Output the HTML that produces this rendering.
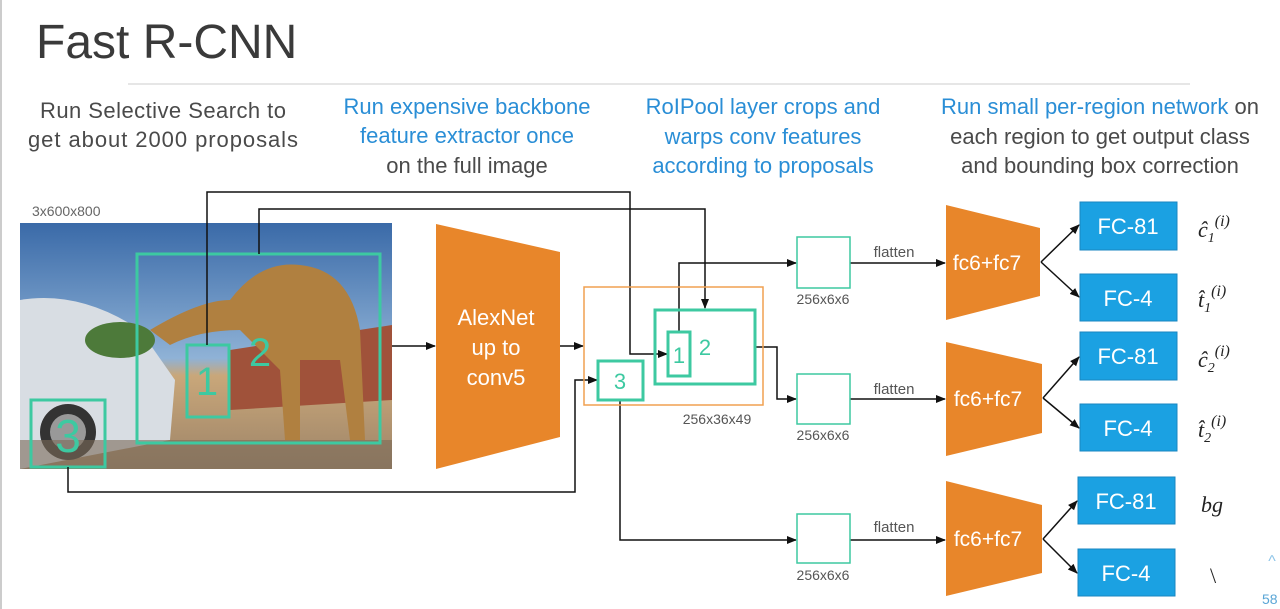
<!DOCTYPE html>
<html><head><meta charset="utf-8"><style>
html,body{margin:0;padding:0;background:#fff;}
svg{display:block;font-family:"Liberation Sans",sans-serif;}
</style></head><body>
<svg width="1280" height="609" viewBox="0 0 1280 609" xmlns="http://www.w3.org/2000/svg">
<defs>
<marker id="ar" markerWidth="10" markerHeight="10" refX="9" refY="5" orient="auto" markerUnits="userSpaceOnUse">
<path d="M0,1 L10,5 L0,9 Z" fill="#111"/></marker>
<linearGradient id="sky" x1="0" y1="0" x2="0" y2="1">
<stop offset="0" stop-color="#3a6aa8"/><stop offset="0.55" stop-color="#8fb2d6"/><stop offset="0.62" stop-color="#c9a77a"/><stop offset="1" stop-color="#9d8468"/></linearGradient>
</defs>
<line x1="1" y1="0" x2="1" y2="609" stroke="#999" stroke-width="1"/>
<text x="36" y="58" font-size="48" fill="#3a3a3a">Fast R-CNN</text>
<line x1="128" y1="84" x2="1190" y2="84" stroke="#ccc" stroke-width="1"/>

<g font-size="22" text-anchor="middle" fill="#4a4a4a">
<text x="163" y="118" textLength="246">Run Selective Search to</text>
<text x="163" y="147" textLength="270">get about 2000 proposals</text>
<text x="467" y="114" fill="#2a8ed6">Run expensive backbone</text>
<text x="467" y="143" fill="#2a8ed6">feature extractor once</text>
<text x="467" y="173">on the full image</text>
<text x="763" y="114" fill="#2a8ed6">RoIPool layer crops and</text>
<text x="763" y="144" fill="#2a8ed6">warps conv features</text>
<text x="763" y="173" fill="#2a8ed6">according to proposals</text>
<text x="1100" y="114"><tspan fill="#2a8ed6">Run small per-region network</tspan> on</text>
<text x="1100" y="144">each region to get output class</text>
<text x="1100" y="173">and bounding box correction</text>
</g>

<text x="32" y="216" font-size="14" fill="#666">3x600x800</text>
<rect x="20" y="223" width="372" height="246" fill="url(#sky)"/>
<polygon points="230,350 392,325 392,400 230,410" fill="#a0523a"/>
<path d="M20,300 Q80,290 140,330 L175,380 L170,440 L20,469 Z" fill="#d8dde3"/>
<path d="M150,330 Q200,300 230,300 Q260,260 300,265 Q350,270 360,330 L365,440 L350,440 L340,360 L300,360 L300,440 L285,440 L280,370 L240,330 Q200,330 170,345 Z" fill="#b08040"/>
<ellipse cx="120" cy="340" rx="35" ry="18" fill="#4d7a3a"/>
<circle cx="68" cy="432" r="28" fill="#333"/><circle cx="68" cy="432" r="18" fill="#999"/>
<rect x="20" y="440" width="372" height="29" fill="#7c6a58" opacity="0.6"/>

<g fill="none" stroke="#3dc9a1" stroke-width="3">
<rect x="137" y="254" width="243" height="189"/>
<rect x="187" y="345" width="42" height="72"/>
<rect x="31" y="400" width="74" height="67"/>
</g>
<g fill="#3dc9a1" font-size="40" text-anchor="middle">
<text x="207" y="395">1</text><text x="260" y="366">2</text><text x="68" y="452" font-size="46">3</text>
</g>

<g fill="none" stroke="#111" stroke-width="1.5">
<polyline points="207,345 207,192 630,192 630,354 667,354" marker-end="url(#ar)"/>
<polyline points="259,254 259,209 705,209 705,308" marker-end="url(#ar)"/>
<polyline points="68,467 68,492 575,492 575,380 597,380" marker-end="url(#ar)"/>
<line x1="392" y1="346" x2="435" y2="346" marker-end="url(#ar)"/>
<line x1="560" y1="346" x2="583" y2="346" marker-end="url(#ar)"/>
<polyline points="679,332 679,263 796,263" marker-end="url(#ar)"/>
<polyline points="755,347 777,347 777,399 796,399" marker-end="url(#ar)"/>
<polyline points="620,400 620,540 796,540" marker-end="url(#ar)"/>
<line x1="850" y1="263" x2="945" y2="263" marker-end="url(#ar)"/>
<line x1="850" y1="399" x2="945" y2="399" marker-end="url(#ar)"/>
<line x1="850" y1="540" x2="945" y2="540" marker-end="url(#ar)"/>
<line x1="1041" y1="262" x2="1079" y2="225" marker-end="url(#ar)"/>
<line x1="1041" y1="262" x2="1079" y2="297" marker-end="url(#ar)"/>
<line x1="1043" y1="398" x2="1079" y2="357" marker-end="url(#ar)"/>
<line x1="1043" y1="398" x2="1079" y2="428" marker-end="url(#ar)"/>
<line x1="1043" y1="539" x2="1077" y2="501" marker-end="url(#ar)"/>
<line x1="1043" y1="539" x2="1077" y2="573" marker-end="url(#ar)"/>
</g>

<polygon points="436,224 560,252 560,437 436,469" fill="#e8862a"/>
<g fill="#fff" font-size="22" text-anchor="middle">
<text x="496" y="325">AlexNet</text><text x="496" y="355">up to</text><text x="496" y="385">conv5</text>
</g>

<rect x="584" y="287" width="179" height="118" fill="none" stroke="#f0a050" stroke-width="1.5"/>
<g fill="none" stroke="#3dc9a1" stroke-width="3">
<rect x="655" y="310" width="100" height="74"/>
<rect x="668" y="332" width="22" height="44"/>
<rect x="598" y="361" width="45" height="39"/>
</g>
<g fill="#3dc9a1" font-size="22" text-anchor="middle">
<text x="679" y="363">1</text><text x="705" y="355">2</text><text x="620" y="389">3</text>
</g>
<text x="717" y="424" font-size="14" fill="#555" text-anchor="middle">256x36x49</text>

<g fill="none" stroke="#3dc9a1" stroke-width="1.5">
<rect x="797" y="237" width="53" height="51"/><rect x="797" y="374" width="53" height="50"/><rect x="797" y="514" width="53" height="49"/>
</g>
<g font-size="14" fill="#555" text-anchor="middle">
<text x="823" y="304">256x6x6</text><text x="823" y="440">256x6x6</text><text x="823" y="580">256x6x6</text>
<text x="894" y="257" font-size="15">flatten</text><text x="894" y="394" font-size="15">flatten</text><text x="894" y="532" font-size="15">flatten</text>
</g>

<g fill="#e8862a">
<polygon points="946,205 1040,228 1040,296 946,320"/>
<polygon points="946,342 1042,364 1042,433 946,456"/>
<polygon points="946,481 1042,505 1042,573 946,596"/>
</g>
<g fill="#fff" font-size="21" text-anchor="middle">
<text x="987" y="270">fc6+fc7</text><text x="988" y="406">fc6+fc7</text><text x="988" y="546">fc6+fc7</text>
</g>

<g fill="#1ba1e2" stroke="#1a86c0" stroke-width="1">
<rect x="1080" y="202" width="97" height="48"/><rect x="1080" y="274" width="97" height="47"/>
<rect x="1080" y="332" width="97" height="48"/><rect x="1080" y="404" width="97" height="47"/>
<rect x="1078" y="477" width="97" height="47"/><rect x="1078" y="549" width="97" height="47"/>
</g>
<g fill="#fff" font-size="22" text-anchor="middle">
<text x="1128" y="234">FC-81</text><text x="1128" y="306">FC-4</text>
<text x="1128" y="364">FC-81</text><text x="1128" y="436">FC-4</text>
<text x="1126" y="509">FC-81</text><text x="1126" y="581">FC-4</text>
</g>

<g font-family="Liberation Serif,serif" font-style="italic" fill="#222" font-size="22">
<text x="1198" y="237">ĉ<tspan font-size="14" dy="5">1</tspan><tspan font-size="16" dy="-16">(i)</tspan></text>
<text x="1198" y="307">t̂<tspan font-size="14" dy="5">1</tspan><tspan font-size="16" dy="-16">(i)</tspan></text>
<text x="1198" y="367">ĉ<tspan font-size="14" dy="5">2</tspan><tspan font-size="16" dy="-16">(i)</tspan></text>
<text x="1198" y="437">t̂<tspan font-size="14" dy="5">2</tspan><tspan font-size="16" dy="-16">(i)</tspan></text>
<text x="1201" y="512">bg</text>
<text x="1210" y="583" font-style="normal">\</text>
</g>
<text x="1272" y="566" font-size="16" fill="#8ec5e8" text-anchor="middle">^</text>
<text x="1262" y="604" font-size="14" fill="#5aa6d6">58</text>
</svg>
</body></html>
